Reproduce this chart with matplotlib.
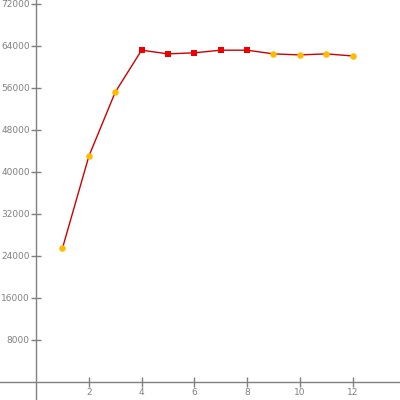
import matplotlib.pyplot as plt

# 数据
x = [1, 2, 3, 4, 5, 6, 7, 8, 9, 10, 11, 12]
y = [25500, 43000, 55200, 63200, 62500, 62700, 63200, 63200, 62500, 62300, 62500, 62100]
hot = [False, False, False, True, True, True, True, True, False, False, False, False]

xticks = [2, 4, 6, 8, 10, 12]
yticks = [8000, 16000, 24000, 32000, 40000, 48000, 56000, 64000, 72000]

fig = plt.figure(figsize=(4, 4), dpi=100)
ax = fig.add_axes([0, 0, 1, 1])

# 折线
ax.plot(x, y, color='#cc0000', linewidth=1, zorder=2)

# 点
xo = [a for a, h in zip(x, hot) if not h]
yo = [b for b, h in zip(y, hot) if not h]
xr = [a for a, h in zip(x, hot) if h]
yr = [b for b, h in zip(y, hot) if h]
ax.scatter(xo, yo, s=22, color='#ffbb00', zorder=3, linewidths=0)
ax.scatter(xr, yr, s=22, color='#ee0000', marker='s', zorder=3, linewidths=0)

# 坐标轴
ax.set_xlim(-1.37, 13.8)
ax.set_ylim(-3430, 72760)
ax.spines['left'].set_position(('data', 0))
ax.spines['bottom'].set_position(('data', 0))
ax.spines['right'].set_visible(False)
ax.spines['top'].set_visible(False)
for s in ['left', 'bottom']:
    ax.spines[s].set_color('#808080')
    ax.spines[s].set_linewidth(1)

ax.set_xticks(xticks)
ax.set_yticks(yticks)
ax.tick_params(direction='inout', length=7, width=1, color='#808080',
               labelcolor='#808080', labelsize=6.5, pad=1)

plt.savefig('out.png')
